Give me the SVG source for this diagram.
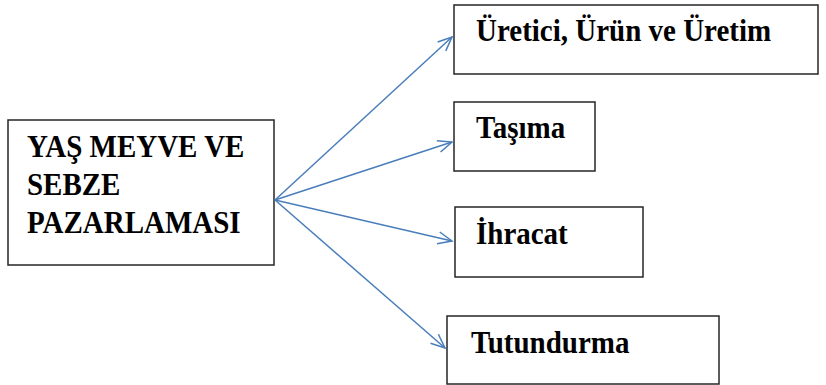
<svg xmlns="http://www.w3.org/2000/svg" width="826" height="385" viewBox="0 0 826 385">
<style>
.box{fill:#fff;stroke:#262626;stroke-width:1.5}
.t{font-family:"Liberation Serif","Times New Roman","DejaVu Serif",serif;font-weight:bold;font-size:29px;fill:#000}
.c{stroke:#4a7ebb;stroke-width:1.5;fill:none}
</style>
<defs>
<marker id="ah" markerUnits="userSpaceOnUse" markerWidth="18" markerHeight="14" refX="16" refY="7" orient="auto">
<path d="M2,1 L16,7 L2,13" fill="none" stroke="#4a7ebb" stroke-width="1.5"/>
</marker>
</defs>
<rect width="826" height="385" fill="#fff"/>
<g id="main">
<rect class="box" x="8" y="120" width="266" height="145"/>
<text class="t" transform="translate(27,157) scale(1,1.1)">YAŞ MEYVE VE</text>
<text class="t" transform="translate(27,195) scale(1,1.1)">SEBZE</text>
<text class="t" transform="translate(27,233) scale(1,1.1)">PAZARLAMASI</text>
</g>
<g id="n1">
<rect class="box" x="454" y="5" width="364" height="69"/>
<text class="t" transform="translate(476,41) scale(1,1.1)">Üretici, Ürün ve Üretim</text>
</g>
<g id="n2">
<rect class="box" x="454" y="102" width="141" height="69"/>
<text class="t" transform="translate(476,138) scale(1,1.1)">Taşıma</text>
</g>
<g id="n3">
<rect class="box" x="455" y="207" width="188" height="70"/>
<text class="t" transform="translate(476,244) scale(1,1.1)">İhracat</text>
</g>
<g id="n4">
<rect class="box" x="447" y="316" width="272" height="68"/>
<text class="t" transform="translate(471,353) scale(1,1.1)">Tutundurma</text>
</g>
<g id="connectors">
<line class="c" x1="275" y1="200" x2="452" y2="37" marker-end="url(#ah)"/>
<line class="c" x1="275" y1="200" x2="452" y2="142" marker-end="url(#ah)"/>
<line class="c" x1="275" y1="200" x2="452" y2="241" marker-end="url(#ah)"/>
<line class="c" x1="275" y1="200" x2="445" y2="348" marker-end="url(#ah)"/>
</g>
</svg>
